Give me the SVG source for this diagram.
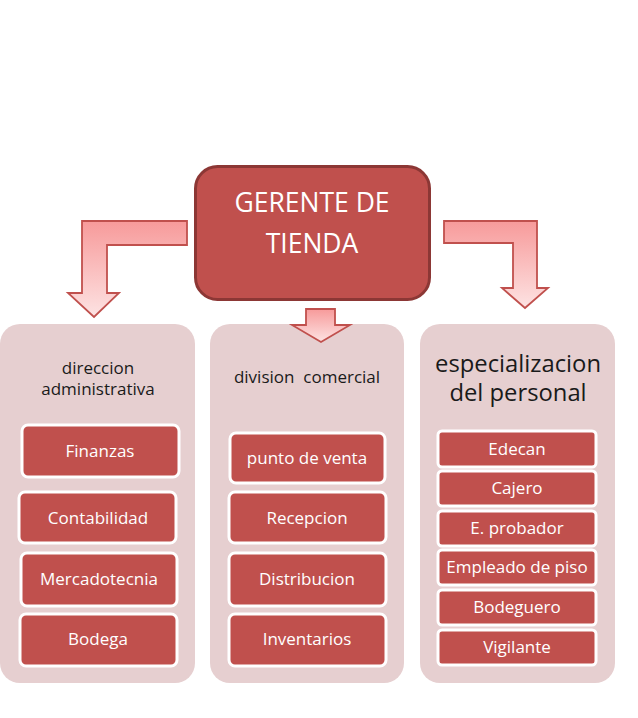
<svg xmlns="http://www.w3.org/2000/svg" width="638" height="718" viewBox="0 0 638 718">
<defs>
<linearGradient id="ag" x1="0" y1="0" x2="0" y2="1">
<stop offset="0" stop-color="#f79a9a"/>
<stop offset="1" stop-color="#fde3e3"/>
</linearGradient>
<style>
.panel{fill:#e6cfd0}
.box{fill:#c0504d;stroke:#ffffff;stroke-width:3}
.arrow{fill:url(#ag);stroke:#c0504d;stroke-width:1.8;stroke-linejoin:miter}
.t{font-family:"Open Sans","Noto Sans",sans-serif;text-anchor:middle}
.w{fill:#ffffff;font-size:17px}
.k{fill:#1a1a1a}
</style>
</defs>
<rect width="638" height="718" fill="#ffffff"/>

<g id="gerente">
<rect x="195.5" y="166.5" width="234" height="133" rx="22" fill="#c0504d" stroke="#8c3735" stroke-width="3"/>
<text class="t" x="312" y="212" fill="#ffffff" font-size="26.5">GERENTE DE</text>
<text class="t" x="312" y="253" fill="#ffffff" font-size="26.5">TIENDA</text>
</g>

<g id="panel-direccion">
<rect class="panel" x="0" y="324" width="195" height="359" rx="20"/>
<text class="t k" x="98" y="374" font-size="17">direccion</text>
<text class="t k" x="98" y="395" font-size="17">administrativa</text>
</g>
<g id="finanzas"><rect class="box" x="22" y="425" width="157" height="52" rx="6"/><text class="t w" x="100" y="457">Finanzas</text></g>
<g id="contabilidad"><rect class="box" x="19" y="492" width="157" height="51" rx="6"/><text class="t w" x="98" y="524">Contabilidad</text></g>
<g id="mercadotecnia"><rect class="box" x="21" y="553" width="156" height="53" rx="6"/><text class="t w" x="99" y="585">Mercadotecnia</text></g>
<g id="bodega"><rect class="box" x="20" y="614" width="157" height="52" rx="6"/><text class="t w" x="98" y="645">Bodega</text></g>

<g id="panel-division">
<rect class="panel" x="210" y="324" width="194" height="359" rx="20"/>
<text class="t k" x="307" y="383" font-size="17" xml:space="preserve">division  comercial</text>
</g>
<g id="punto"><rect class="box" x="230" y="433" width="155" height="50" rx="6"/><text class="t w" x="307" y="464">punto de venta</text></g>
<g id="recepcion"><rect class="box" x="229" y="492" width="157" height="51" rx="6"/><text class="t w" x="307" y="524">Recepcion</text></g>
<g id="distribucion"><rect class="box" x="229" y="553" width="157" height="53" rx="6"/><text class="t w" x="307" y="585">Distribucion</text></g>
<g id="inventarios"><rect class="box" x="229" y="614" width="157" height="52" rx="6"/><text class="t w" x="307" y="645">Inventarios</text></g>

<g id="panel-especializacion">
<rect class="panel" x="420" y="324" width="195" height="359" rx="20"/>
<text class="t k" x="518" y="372" font-size="23.8">especializacion</text>
<text class="t k" x="518" y="401" font-size="23.8">del personal</text>
</g>
<g id="edecan"><rect class="box" x="438" y="431" width="158" height="36" rx="4"/><text class="t w" x="517" y="455">Edecan</text></g>
<g id="cajero"><rect class="box" x="438" y="471" width="158" height="35" rx="4"/><text class="t w" x="517" y="494">Cajero</text></g>
<g id="probador"><rect class="box" x="438" y="511" width="158" height="35" rx="4"/><text class="t w" x="517" y="534">E. probador</text></g>
<g id="empleado"><rect class="box" x="438" y="550" width="158" height="35" rx="4"/><text class="t w" x="517" y="573">Empleado de piso</text></g>
<g id="bodeguero"><rect class="box" x="438" y="590" width="158" height="35" rx="4"/><text class="t w" x="517" y="613">Bodeguero</text></g>
<g id="vigilante"><rect class="box" x="438" y="630" width="158" height="35" rx="4"/><text class="t w" x="517" y="653">Vigilante</text></g>

<g id="connectors">
<path class="arrow" d="M187,221 L82,221 L82,293 L68,293 L94,317 L119,293 L107,293 L107,245 L187,245 Z"/>
<path class="arrow" d="M444,221 L537,221 L537,288 L548,288 L525,308 L502,288 L513,288 L513,243 L444,243 Z"/>
<path class="arrow" d="M306,309 L335,309 L335,325 L350,325 L321,342 L292,325 L306,325 Z"/>
</g>
</svg>
